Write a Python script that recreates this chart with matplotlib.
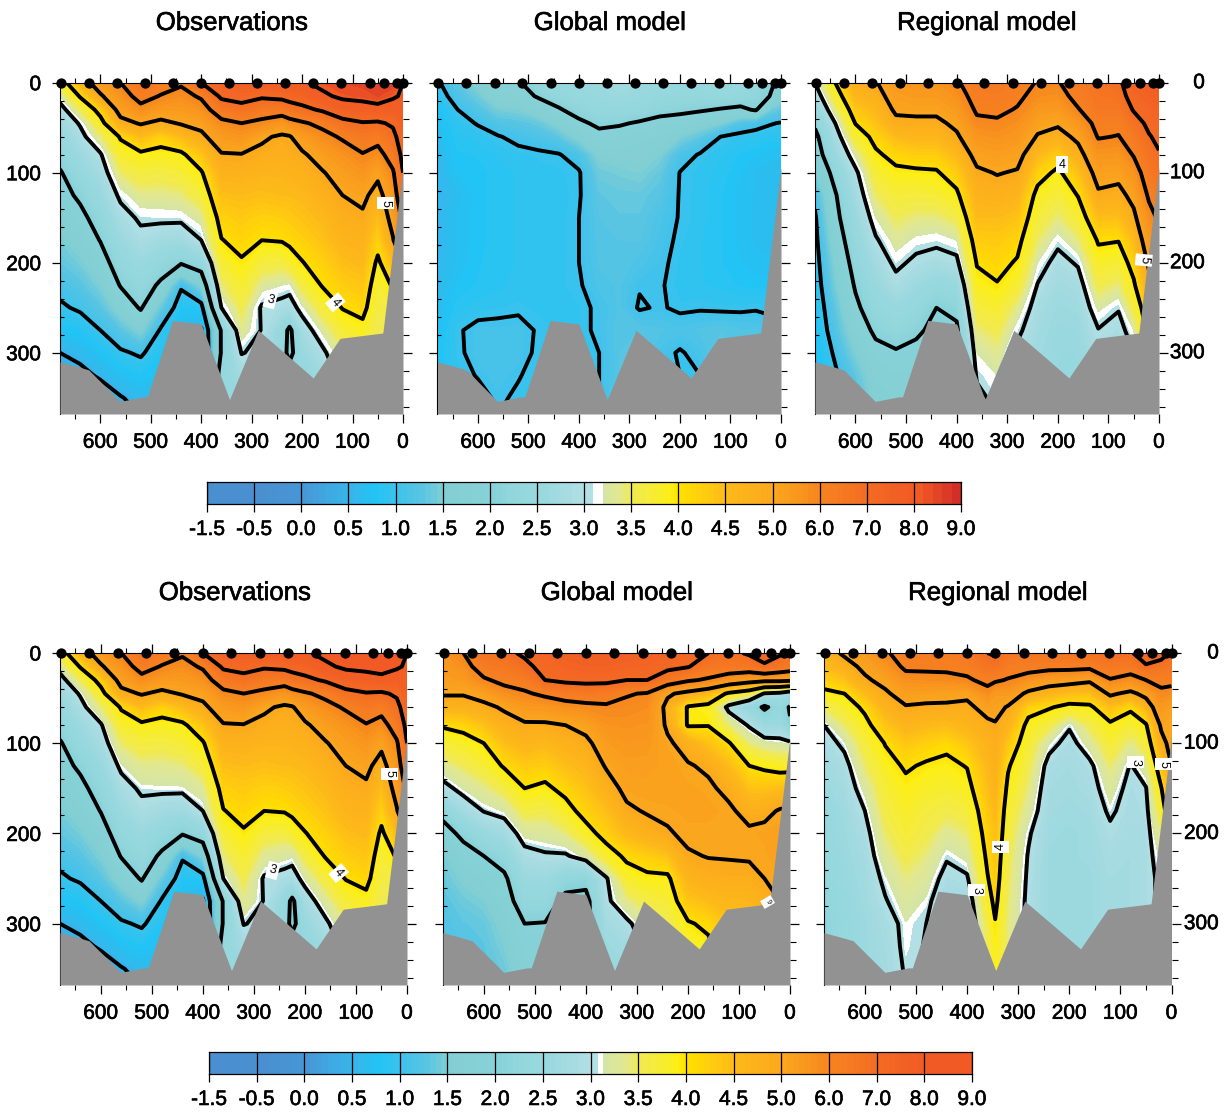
import numpy as np
import matplotlib
matplotlib.use("Agg")
import matplotlib.pyplot as plt
import matplotlib.patheffects as pe
from matplotlib.colors import to_rgb
from matplotlib.ticker import MultipleLocator, FixedLocator

plt.rcParams['font.family'] = ['Liberation Sans', 'DejaVu Sans']

W, H = 1229, 1113

DEPTHS = [0, 15, 30, 45, 60, 80, 100, 125, 150, 175, 200, 225, 250, 275, 300, 325, 350, 370]
DIST = [680, 640, 600, 560, 520, 480, 440, 400, 360, 320, 280, 240, 200, 160, 120, 80, 50, 20, 0]
DIST_OBS = [680, 640, 600, 560, 520, 480, 440, 400, 360, 320, 280, 240, 225, 200, 160, 120, 80, 50, 20, 0]
DIST_REG_BOTTOM = [680, 640, 600, 560, 520, 480, 440, 400, 360, 345, 320, 280, 240, 200, 160, 120, 80, 50, 20, 0]
STATIONS = [679, 623, 567, 512, 456, 400, 345, 289, 233, 178, 122, 66, 38, 11, 0]
BATHY_X = [680, 641, 623, 561, 515, 507, 457, 400, 344, 287, 223, 178, 125, 40, 0]
BATHY_Z = [310, 316, 319, 354, 349, 349, 264, 268, 352, 275, 306, 328, 284, 278, 93]

# Temperature profiles (one list per distance column, top to bottom)
OBS = [
 [3.7,3.2,2.8,2.6,2.4,2.2,1.95,1.8,1.6,1.45,1.3,1.1,.95,.75,.5,.3,.2,.1],
 [4.6,4.05,3.5,3.05,2.85,2.6,2.4,2.1,1.85,1.65,1.45,1.25,1.05,.8,.6,.4,.2,.1],
 [5.4,4.9,4.2,3.8,3.4,2.95,2.75,2.5,2.25,2.02,1.75,1.5,1.25,1.0,.75,.55,.3,.2],
 [6.0,5.6,5.25,4.8,4.05,3.75,3.45,3.1,2.8,2.55,2.3,2.03,1.65,1.25,.95,.7,.48,.3],
 [6.6,6.3,5.75,5.05,4.5,3.9,3.65,3.35,3.08,2.85,2.55,2.3,2.05,1.55,1.05,.8,.6,.5],
 [6.4,5.95,5.4,4.85,4.2,3.85,3.6,3.35,3.1,2.7,2.3,1.9,1.35,.95,.8,.7,.6,.5],
 [6.1,5.75,5.4,5.05,4.5,3.9,3.7,3.4,3.1,2.65,2.05,1.05,.8,.6,.5,.5,.5,.5],
 [7.0,6.1,5.65,5.2,4.85,4.35,3.95,3.65,3.3,3.0,2.3,1.55,.85,.45,.4,.4,.4,.4],
 [7.5,7.15,6.45,5.8,5.4,4.95,4.7,4.45,4.2,3.98,3.7,3.4,3.0,2.05,2.05,2.3,2.4,2.4],
 [7.7,7.25,6.75,6.0,5.55,4.97,4.75,4.5,4.3,4.15,3.95,3.75,3.55,3.35,3.02,2.7,2.5,2.4],
 [7.8,7.1,6.45,5.8,5.1,4.85,4.65,4.45,4.2,4.0,3.65,3.3,2.95,2.98,2.9,2.5,2.5,2.5],
 [7.8,7.2,6.4,5.5,4.9,4.8,4.65,4.5,4.25,4.03,3.6,3.2,2.85,2.35,2.3,2.3,2.3,2.3],
 [7.85,7.3,6.6,5.7,4.95,4.85,4.7,4.5,4.3,4.1,3.75,3.15,2.8,1.85,1.8,2.3,2.3,2.3],
 [7.9,7.4,6.8,5.9,5.35,4.9,4.75,4.55,4.4,4.2,3.98,3.6,3.15,2.75,2.5,2.4,2.4,2.4],
 [8.2,7.85,7.1,6.2,5.75,5.3,4.95,4.75,4.55,4.4,4.2,4.03,3.65,3.25,2.9,2.6,2.5,2.5],
 [8.4,8.15,7.5,6.75,6.1,5.6,5.3,5.0,4.8,4.65,4.45,4.25,4.02,3.7,3.4,3.2,3.1,3.1],
 [8.5,8.25,7.6,6.95,6.5,5.95,5.55,5.15,4.9,4.7,4.55,4.35,4.15,3.85,3.7,3.6,3.6,3.6],
 [8.5,8.4,7.7,6.9,6.3,5.7,5.15,4.75,4.45,4.2,3.9,3.7,3.6,3.5,3.5,3.5,3.5,3.5],
 [8.6,8.1,7.6,7.1,6.8,6.4,5.9,5.5,5.25,4.95,4.5,4.05,3.7,3.6,3.6,3.6,3.6,3.6],
 [8.0,7.9,7.8,7.6,7.4,7.2,7.0,6.8,6.2,5.8,5.0,4.5,4.2,4.0,4.0,4.0,4.0,4.0],
]

GLOBAL_TOP = [
 [.95,.85,.75,.7,.65,.6,.55,.55,.55,.55,.55,.6,.65,.7,.75,.75,.75,.75],
 [1.3,1.15,1.0,.9,.85,.8,.75,.65,.7,.7,.7,.75,.85,.97,.95,.9,.9,.9],
 [1.6,1.4,1.2,1.02,.9,.82,.78,.78,.78,.78,.8,.82,.9,1.08,1.1,1.02,.9,.9],
 [1.95,1.75,1.45,1.2,.98,.88,.85,.85,.85,.85,.85,.85,.93,1.08,1.1,1.1,1.05,1.0],
 [1.95,1.8,1.5,1.25,1.08,.92,.88,.88,.88,.88,.88,.9,.95,1.1,1.1,1.02,.95,.9],
 [2.3,2.05,1.7,1.35,1.15,.95,.9,.88,.88,.88,.88,.88,.92,.97,.95,.9,.9,.9],
 [2.45,2.25,1.95,1.6,1.3,.98,.92,.9,.9,.9,.9,.92,.92,.92,.92,.92,.92,.92],
 [2.55,2.4,2.2,1.9,1.6,1.15,.97,.97,1.0,1.0,1.0,.97,.93,.93,.93,.93,.93,.93],
 [2.55,2.5,2.35,2.1,1.85,1.55,1.4,1.3,1.25,1.22,1.2,1.15,1.05,1.05,1.0,1.0,1.0,1.0],
 [2.7,2.6,2.35,2.05,1.8,1.6,1.45,1.35,1.3,1.25,1.25,1.2,1.2,1.25,1.25,1.25,1.25,1.25],
 [2.6,2.5,2.3,1.95,1.75,1.6,1.5,1.35,1.3,1.25,1.15,1.02,.97,1.25,1.3,1.3,1.3,1.3],
 [2.5,2.35,2.15,1.85,1.65,1.5,1.35,1.25,1.15,1.1,1.06,1.03,1.03,1.2,1.1,1.05,1.05,1.05],
 [2.45,2.3,2.1,1.8,1.5,1.15,.99,.98,.98,.95,.92,.9,.95,1.15,.97,1.0,1.0,1.0],
 [2.5,2.3,2.05,1.65,1.3,.97,.9,.9,.9,.88,.88,.88,.97,1.2,1.1,1.0,1.0,1.0],
 [2.55,2.35,1.97,1.5,1.0,.88,.85,.82,.82,.82,.82,.85,.95,1.25,1.3,1.3,1.3,1.3],
 [2.5,2.3,1.9,1.2,.92,.8,.75,.72,.72,.72,.75,.8,.95,1.2,1.25,1.25,1.25,1.25],
 [2.3,2.2,2.05,1.1,.9,.75,.68,.68,.68,.68,.7,.78,.97,1.2,1.2,1.2,1.2,1.2],
 [2.05,1.98,1.4,1.02,.85,.7,.65,.65,.65,.65,.7,.78,.95,1.1,1.1,1.1,1.1,1.1],
 [1.9,1.7,1.3,.98,.85,.7,.65,.65,.65,.65,.7,.78,.95,1.1,1.1,1.1,1.1,1.1],
]

REGIONAL_TOP = [
 [3.0,2.7,2.4,2.1,1.85,1.7,1.45,1.1,.95,.9,.85,.8,.75,.7,.7,.7,.7,.7],
 [4.0,3.7,3.35,3.0,2.75,2.5,2.2,1.95,1.85,1.7,1.55,1.45,1.3,1.2,1.05,.95,.9,.9],
 [4.8,4.6,4.3,4.02,3.7,3.25,2.9,2.7,2.5,2.35,2.2,2.05,1.9,1.7,1.5,1.3,1.2,1.1],
 [4.95,4.75,4.55,4.4,4.15,3.92,3.7,3.45,3.2,2.95,2.7,2.5,2.3,2.1,1.85,1.7,1.6,1.5],
 [5.5,5.3,5.1,4.85,4.5,4.15,3.9,3.7,3.5,3.3,3.1,2.85,2.5,2.25,1.95,1.8,1.7,1.6],
 [5.6,5.4,5.15,4.85,4.6,4.25,3.92,3.65,3.4,3.15,2.9,2.6,2.35,2.1,1.85,1.8,1.8,1.8],
 [5.6,5.4,5.15,4.85,4.6,4.25,3.95,3.7,3.4,3.1,2.8,2.4,2.0,1.85,1.8,1.8,1.8,1.8],
 [5.9,5.65,5.4,5.15,4.9,4.55,4.25,3.9,3.55,3.2,2.9,2.5,2.15,1.9,1.8,1.8,1.8,1.8],
 [6.45,6.3,6.1,5.85,5.55,5.2,4.9,4.7,4.5,4.25,4.03,3.85,3.65,3.4,3.2,3.05,2.9,2.8],
 [6.5,6.35,6.15,5.9,5.65,5.3,5.03,4.75,4.5,4.3,4.15,3.97,3.75,3.55,3.35,3.2,3.1,3.0],
 [6.3,6.15,5.95,5.7,5.5,5.2,4.95,4.65,4.4,4.15,3.95,3.7,3.35,3.1,2.9,2.85,2.8,2.8],
 [5.95,5.75,5.5,5.2,4.95,4.55,4.2,3.85,3.65,3.45,3.2,2.98,2.8,2.7,2.65,2.6,2.6,2.6],
 [5.95,5.7,5.4,5.1,4.75,4.25,3.9,3.65,3.4,3.1,2.85,2.7,2.6,2.55,2.5,2.5,2.5,2.5],
 [6.4,6.25,5.95,5.5,5.15,4.75,4.4,4.02,3.7,3.4,3.05,2.8,2.65,2.55,2.5,2.5,2.5,2.5],
 [6.75,6.6,6.5,6.25,6.05,5.6,5.25,4.9,4.45,4.05,3.8,3.55,3.25,2.98,2.8,2.7,2.7,2.7],
 [6.85,6.7,6.5,6.2,5.97,5.55,5.2,4.8,4.45,4.02,3.7,3.4,3.03,2.85,2.8,2.8,2.8,2.8],
 [7.5,7.3,7.05,6.7,6.4,6.05,5.6,5.2,4.85,4.5,4.2,3.92,3.6,3.2,3.0,3.0,3.0,3.0],
 [7.7,7.5,7.3,7.15,6.95,6.7,6.45,6.1,5.75,5.4,5.1,4.8,4.4,4.2,4.2,4.2,4.2,4.2],
 [7.7,7.6,7.45,7.3,7.15,6.95,6.7,6.4,6.1,5.7,5.3,5.0,4.7,4.5,4.5,4.5,4.5,4.5],
]

GLOBAL_BOTTOM = [
 [5.6,5.45,5.3,5.05,4.7,4.05,3.7,3.3,2.85,2.2,1.75,1.45,1.35,1.25,1.2,1.15,1.1,1.1],
 [6.0,5.7,5.4,5.05,4.7,4.15,3.8,3.5,3.15,2.7,2.15,1.75,1.55,1.4,1.3,1.25,1.2,1.2],
 [6.7,6.4,5.9,5.25,4.85,4.4,4.0,3.7,3.35,3.02,2.5,2.0,1.7,1.5,1.35,1.3,1.25,1.2],
 [6.85,6.55,6.2,5.7,5.08,4.75,4.45,4.05,3.6,3.15,2.7,2.25,1.9,1.75,1.6,1.5,1.4,1.3],
 [7.1,6.85,6.35,5.9,5.45,4.9,4.65,4.3,4.0,3.6,3.2,2.85,2.55,2.3,2.0,1.85,1.75,1.7],
 [7.4,7.2,7.0,6.15,5.5,4.9,4.55,4.25,3.9,3.55,3.25,2.95,2.6,2.3,1.98,1.9,1.9,1.9],
 [7.6,7.4,7.15,6.35,5.7,5.0,4.75,4.45,4.15,3.8,3.4,2.95,2.25,1.85,1.7,1.7,1.7,1.7],
 [7.7,7.5,7.2,6.45,5.8,5.2,4.85,4.6,4.4,4.2,3.8,3.2,2.2,1.8,1.8,1.8,1.8,1.8],
 [7.7,7.5,7.2,6.35,5.9,5.6,5.35,5.05,4.75,4.45,4.2,3.75,2.95,2.9,2.7,2.6,2.5,2.4],
 [7.65,7.4,7.0,6.05,5.85,5.65,5.5,5.3,5.15,4.9,4.55,4.1,3.75,3.35,2.9,2.7,2.6,2.5],
 [7.6,7.35,7.0,5.95,5.75,5.6,5.45,5.3,5.2,5.05,4.75,4.25,3.9,3.6,3.3,3.1,3.1,3.1],
 [7.4,7.2,6.5,5.1,4.8,4.9,5.1,5.2,5.2,5.1,4.95,4.4,3.9,3.7,3.5,3.4,3.3,3.3],
 [7.3,7.05,6.1,4.8,3.95,3.95,4.75,5.05,5.15,5.15,5.1,4.95,4.65,4.35,3.95,3.7,3.6,3.6],
 [7.0,6.55,5.9,4.5,3.85,3.98,4.4,4.9,5.1,5.15,5.1,5.02,4.8,4.5,4.1,3.9,3.8,3.8],
 [6.8,6.5,5.55,3.9,2.85,3.4,4.05,4.5,4.85,5.1,5.1,5.03,4.85,4.6,4.4,4.4,4.4,4.4],
 [7.1,6.5,5.3,3.6,2.4,2.95,3.4,4.0,4.4,4.8,5.1,5.05,4.85,4.6,4.5,4.5,4.5,4.5],
 [7.3,6.9,5.2,2.95,1.9,2.55,3.2,3.9,4.4,4.85,5.15,5.1,5.0,4.8,4.7,4.7,4.7,4.7],
 [7.1,6.6,5.2,2.85,2.3,2.6,3.15,3.8,4.45,5.05,5.2,5.2,5.1,5.0,5.0,5.0,5.0,5.0],
 [6.8,6.45,5.15,2.6,1.95,2.05,3.1,3.8,4.5,5.1,5.2,5.2,5.1,5.0,5.0,5.0,5.0,5.0],
]

REGIONAL_BOTTOM = [
 [4.7,4.5,4.2,3.9,3.5,3.0,2.8,2.65,2.55,2.45,2.4,2.3,2.25,2.2,2.15,2.1,2.1,2.1],
 [5.1,4.75,4.4,4.0,3.75,3.45,3.1,2.85,2.75,2.65,2.6,2.55,2.5,2.45,2.4,2.4,2.4,2.4],
 [5.4,5.15,4.9,4.5,4.1,3.85,3.65,3.45,3.2,3.0,2.85,2.75,2.7,2.65,2.6,2.6,2.6,2.6],
 [5.9,5.55,5.2,4.9,4.7,4.35,4.02,3.85,3.7,3.6,3.45,3.3,3.1,2.97,2.8,2.75,2.7,2.7],
 [6.35,6.15,5.7,5.3,4.95,4.65,4.35,4.05,3.9,3.8,3.7,3.55,3.4,3.25,3.12,3.1,3.05,3.0],
 [6.3,6.15,5.75,5.25,4.9,4.55,4.2,3.95,3.8,3.65,3.55,3.4,3.25,3.1,3.0,2.98,2.97,2.97],
 [6.3,6.15,5.8,5.2,4.9,4.5,4.1,3.9,3.75,3.55,3.3,3.05,2.85,2.7,2.6,2.6,2.6,2.6],
 [6.5,6.25,5.9,5.15,4.85,4.65,4.35,4.02,3.85,3.65,3.45,3.2,2.95,2.7,2.55,2.55,2.55,2.55],
 [7.0,6.7,6.2,5.75,5.25,4.85,4.7,4.55,4.45,4.3,4.2,4.1,3.97,3.8,3.6,3.5,3.5,3.5],
 [7.1,6.7,6.1,5.4,5.2,4.95,4.85,4.75,4.65,4.55,4.45,4.35,4.25,4.12,3.97,3.9,3.85,3.85],
 [6.6,6.35,5.95,5.45,4.95,4.65,4.35,4.05,3.9,3.75,3.65,3.55,3.5,3.45,3.4,3.4,3.4,3.4],
 [6.55,6.3,5.65,4.85,4.2,3.85,3.7,3.55,3.4,3.25,3.05,2.97,2.93,2.9,2.9,2.9,2.9,2.9],
 [6.6,6.25,5.35,4.6,4.05,3.6,3.15,2.85,2.75,2.7,2.65,2.6,2.6,2.6,2.6,2.6,2.6,2.6],
 [6.7,6.25,5.25,4.45,3.85,3.05,2.85,2.75,2.7,2.65,2.6,2.6,2.6,2.6,2.6,2.6,2.6,2.6],
 [6.75,6.2,5.1,4.45,3.9,3.55,3.25,2.9,2.8,2.7,2.65,2.65,2.6,2.6,2.6,2.6,2.6,2.6],
 [6.9,6.5,5.95,5.1,4.45,3.9,3.7,3.45,3.25,3.08,2.9,2.8,2.75,2.75,2.75,2.75,2.75,2.75],
 [6.9,6.4,5.7,4.85,4.1,3.7,3.35,2.97,2.85,2.8,2.75,2.75,2.75,2.75,2.75,2.75,2.75,2.75],
 [7.5,6.9,6.0,5.2,4.6,3.95,3.65,3.3,2.98,2.9,2.85,2.85,2.85,2.85,2.85,2.85,2.85,2.85],
 [7.3,6.7,6.2,5.85,5.5,5.1,4.8,4.35,3.98,3.7,3.4,3.2,3.1,3.1,3.1,3.1,3.1,3.1],
 [6.9,6.55,6.2,5.75,5.2,5.05,5.2,5.0,4.7,4.5,4.3,4.2,4.2,4.2,4.2,4.2,4.2,4.2],
]

CONTOUR_LEVELS = [0.5, 1, 2, 3, 4, 5, 6, 7, 8]
BASE_LEVELS = [-1.5,-0.5,0,0.25,0.5,0.75,1,1.25,1.5,1.75,2,2.25,2.5,2.75,3,3.1,3.2,3.35,3.5,3.7,3.9,4,
               4.25,4.5,4.75,5,5.5,6,6.5,7,7.5,8,8.8,9]
BASE_LEVELS_B = [-1.5,-0.5,0,0.25,0.5,0.75,1,1.25,1.5,1.75,2,2.25,2.5,2.75,3,3.08,3.13,3.35,3.5,3.7,3.9,4,
                 4.25,4.5,4.75,5,5.5,6,6.5,7,7.5,8,8.8,9]
BASE_COLORS = ['#4A90D0','#4A90D0','#4797D6','#3FA9E2','#37B5EA','#21C4F4','#40C2EC','#5AC5E3','#82CFD3',
               '#84D0D5','#87D2D9','#93D7DD','#98D8DE','#A6DBE1','#B2E0E4','#FFFFFF','#D5E5A6','#E2E88F',
               '#F0EA50','#F6EC35','#FCEF14','#FFDF00','#FFCB10','#FDB91A','#FCB01B','#FAA61E','#F8961E',
               '#F6821F','#F57722','#F36A23','#F26124','#F15A24','#D32F27']
BASE_COLORS_B = BASE_COLORS[:-1] + ['#F15A24']
BAR_TICKS = [-1.5,-0.5,0.0,0.5,1.0,1.5,2.0,2.5,3.0,3.5,4.0,4.5,5.0,6.0,7.0,8.0,9.0]

TITLES = ['Observations', 'Global model', 'Regional model']
DEPTH_LABELS = [0, 100, 200, 300]
TXT = [pe.withStroke(linewidth=0.45, foreground='k')]


def shaded(levels, colors, n=4):
    """Split each colour band into n shades running towards the next band."""
    out_l, out_c = [], []
    for i, c in enumerate(colors):
        a = np.array(to_rgb(c))
        nxt = colors[i + 1] if i + 1 < len(colors) else c
        b = np.array(to_rgb(nxt))
        if c == '#FFFFFF' or nxt == '#FFFFFF' or c == nxt:
            out_l.append(levels[i])
            out_c.append(tuple(a))
            continue
        for k in range(n):
            out_l.append(levels[i] + (levels[i + 1] - levels[i]) * k / n)
            out_c.append(tuple(a + (b - a) * k / n))
    out_l.append(levels[-1])
    return out_l, out_c


FILL_LEVELS, FILL_COLORS = shaded(BASE_LEVELS, BASE_COLORS)
FILL_LEVELS_B, FILL_COLORS_B = shaded(BASE_LEVELS_B, BASE_COLORS_B)

fig = plt.figure(figsize=(W/100, H/100), dpi=100)


def px_axes(l, t, r, b):
    return fig.add_axes([l/W, 1-b/H, (r-l)/W, (b-t)/H])


def panel(box, xs, T, levels, colors, labels, left=False, right_lab=None):
    ax = px_axes(*box)
    Z = np.array(T, dtype=float).T
    ax.contourf(xs, DEPTHS, Z, levels=levels, colors=colors, zorder=1)
    ax.contour(xs, DEPTHS, Z, levels=CONTOUR_LEVELS, colors='k', linewidths=2.8, zorder=2)
    ax.fill_between(BATHY_X, BATHY_Z, 368, color='#929292', lw=0, zorder=3)
    ax.set_xlim(680, 0)
    ax.set_ylim(368, 0)
    for txt, kmx, z, rot, fs in labels:
        ax.text(kmx, z, txt, fontsize=fs, rotation=rot, ha='center', va='center', zorder=4,
                bbox=dict(fc='white', ec='none', pad=1.8))
    ax.scatter(STATIONS, [0]*len(STATIONS), s=55, c='k', clip_on=False, zorder=5, lw=0)
    for s in ('right', 'bottom'):
        ax.spines[s].set_visible(False)
    for s in ('left', 'top'):
        ax.spines[s].set_linewidth(0.8)
    ax.xaxis.set_major_locator(MultipleLocator(100))
    ax.xaxis.set_minor_locator(MultipleLocator(50))
    ax.yaxis.set_major_locator(FixedLocator(DEPTH_LABELS))
    ax.yaxis.set_minor_locator(MultipleLocator(20))
    ax.tick_params(axis='x', which='major', top=True, bottom=True, direction='out', length=6.5, width=0.9,
                   labelsize=15, pad=7)
    ax.tick_params(axis='x', which='minor', top=True, bottom=True, direction='out', length=3.5, width=0.8)
    ax.tick_params(axis='y', which='major', direction='out', length=6, width=0.9,
                   labelsize=15, pad=7.5, labelleft=left)
    ax.tick_params(axis='y', which='minor', direction='in', length=3, width=0.8)
    sec = ax.secondary_yaxis('right')
    sec.yaxis.set_major_locator(FixedLocator(DEPTH_LABELS))
    sec.yaxis.set_minor_locator(MultipleLocator(20))
    sec.spines['right'].set_visible(False)
    sec.tick_params(axis='y', which='major', direction='out', length=6.5, width=0.9, labelright=False)
    sec.tick_params(axis='y', which='minor', direction='out', length=4, width=0.8)
    if right_lab is not None:
        xa = (right_lab - box[0]) / (box[2] - box[0])
        for d in DEPTH_LABELS:
            ax.text(xa, d, str(d), transform=ax.get_yaxis_transform(), ha='right', va='center',
                    fontsize=15, clip_on=False)
    return ax


def colorbar(box, levels, colors):
    ax = px_axes(*box)
    idx = np.arange(len(BAR_TICKS))
    pos = np.interp(levels, BAR_TICKS, idx)
    ax.bar(pos[:-1], 1, width=np.diff(pos), align='edge', color=colors, lw=0, zorder=1)
    ax.vlines(idx, 0, 1, colors='k', lw=0.9, zorder=2)
    ax.set_xlim(idx[0], idx[-1])
    ax.set_ylim(0, 1)
    ax.set_yticks([])
    ax.set_xticks(idx)
    ax.set_xticklabels([f'{v:.1f}' for v in BAR_TICKS])
    ax.tick_params(axis='x', length=6, width=0.9, labelsize=15, pad=5.5)
    for s in ax.spines.values():
        s.set_linewidth(0.9)


LAB_OBS = [('5', 35, 134, -90, 9), ('3', 263, 241, -15, 9), ('4', 134, 244, -50, 9)]
LAB_REG_TOP = [('4', 192, 91, 0, 9), ('5', 30, 197, -95, 9)]
LAB_GLOB_B = [('9', 44, 276, -60, 5)]
LAB_REG_B = [('4', 335, 215, 90, 9), ('3', 381, 263, -90, 9), ('3', 70, 121, -90, 9), ('5', 15, 123, -90, 9)]

panel((60, 82.7, 403, 414), DIST_OBS, OBS, FILL_LEVELS, FILL_COLORS, LAB_OBS, left=True)
panel((437.5, 82.7, 781, 414), DIST, GLOBAL_TOP, FILL_LEVELS, FILL_COLORS, [])
panel((815, 82.7, 1159, 414), DIST, REGIONAL_TOP, FILL_LEVELS, FILL_COLORS, LAB_REG_TOP, right_lab=1205)
panel((60, 653, 407, 985), DIST_OBS, OBS, FILL_LEVELS_B, FILL_COLORS_B, LAB_OBS, left=True)
panel((443, 653, 790, 985), DIST, GLOBAL_BOTTOM, FILL_LEVELS_B, FILL_COLORS_B, LAB_GLOB_B)
panel((824, 653, 1171.5, 985), DIST_REG_BOTTOM, REGIONAL_BOTTOM, FILL_LEVELS_B, FILL_COLORS_B, LAB_REG_B, right_lab=1219)

colorbar((207, 482, 961, 504), FILL_LEVELS, FILL_COLORS)
colorbar((209, 1052, 972, 1074), FILL_LEVELS_B, FILL_COLORS_B)

for tx, cx, cy in [(TITLES[0], 232, 23), (TITLES[1], 610, 23), (TITLES[2], 987, 23),
                   (TITLES[0], 235, 593), (TITLES[1], 617, 593), (TITLES[2], 998, 593)]:
    fig.text(cx/W, 1-cy/H, tx, ha='center', va='center', fontsize=18.6)

for a in fig.axes:
    for t in a.get_xticklabels() + a.get_yticklabels() + list(a.texts):
        if t.get_bbox_patch() is None:
            t.set_path_effects(TXT)
for t in fig.texts:
    t.set_path_effects(TXT)

fig.savefig('out.png', dpi=100)
